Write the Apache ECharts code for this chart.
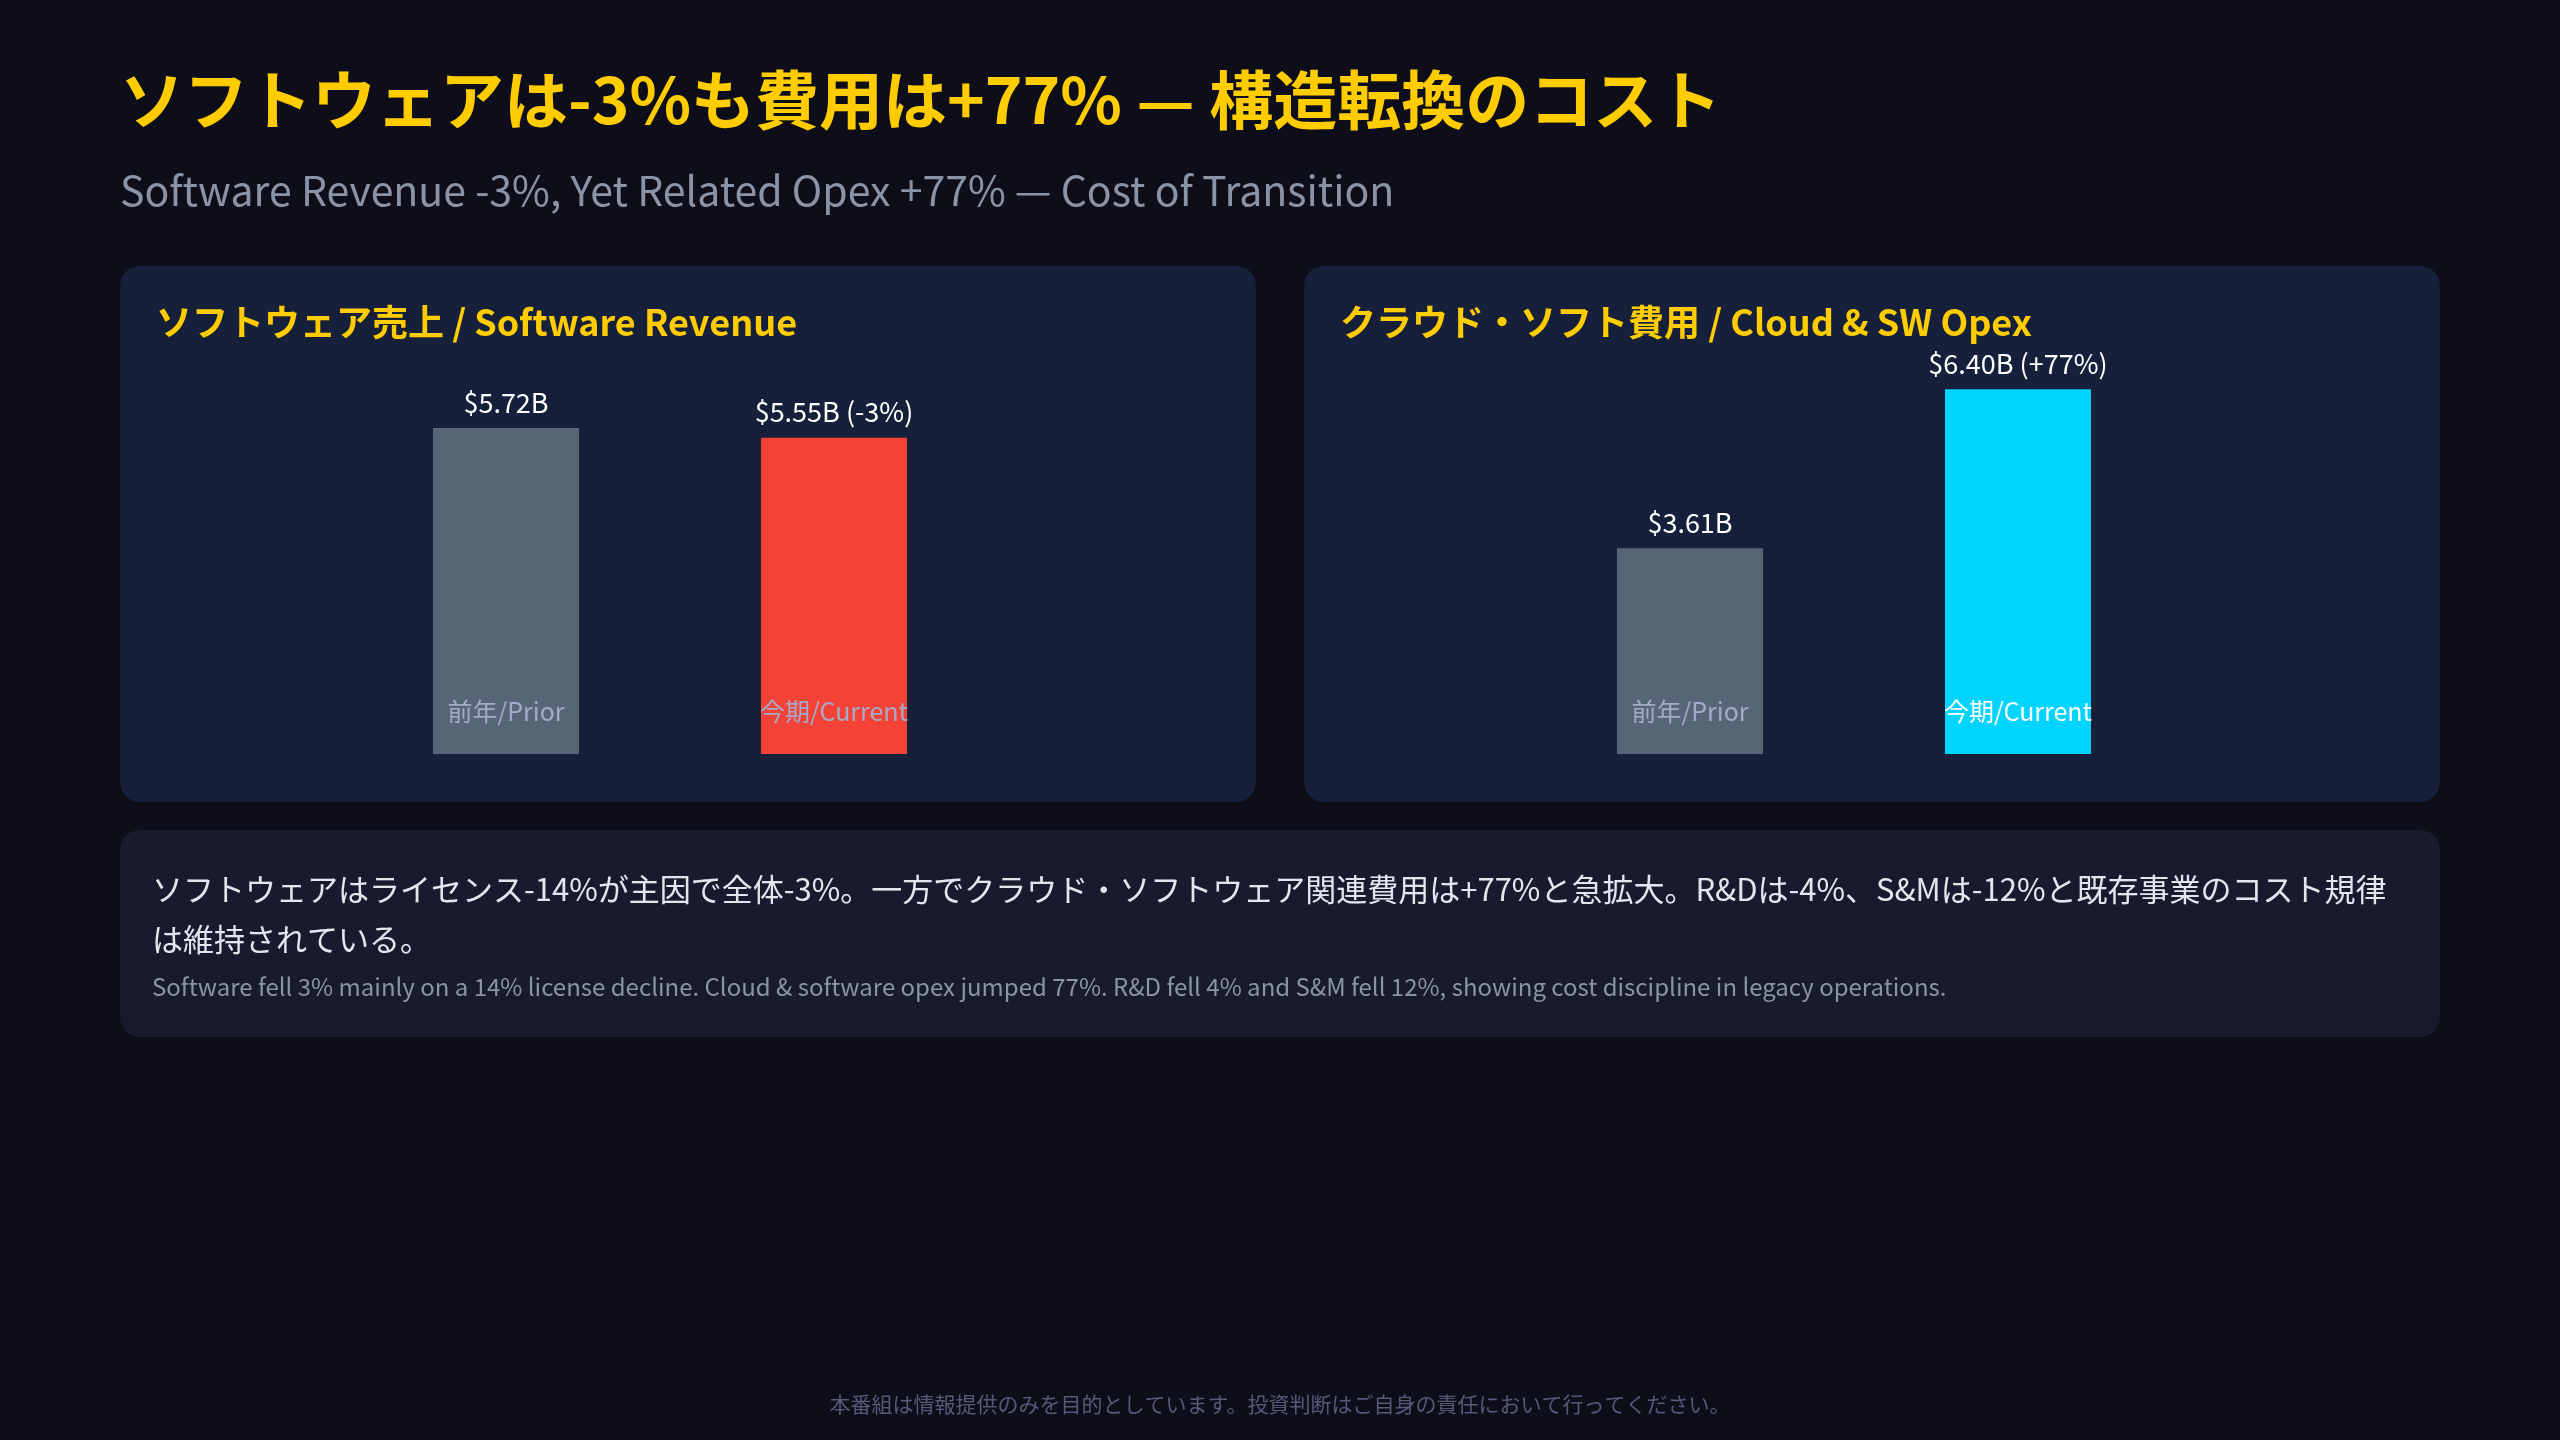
<!DOCTYPE html>
<html>
<head>
<meta charset="utf-8">
<script src="https://cdn.jsdelivr.net/npm/echarts@6/dist/echarts.min.js"></script>
<style>
  html, body { margin: 0; padding: 0; background: #0e0e1a; }
  #chart { width: 2560px; height: 1440px; }
</style>
</head>
<body>
<div id="chart"></div>
<script>
// data
const categories = ['前年/Prior', '今期/Current'];
const revenueValues = [5.72, 5.55];
const revenueLabels = ['$5.72B', '$5.55B (-3%)'];
const opexValues = [3.61, 6.40];
const opexLabels = ['$3.61B', '$6.40B (+77%)'];

const FONT = '"Noto Sans CJK JP", "Noto Sans", sans-serif';
const chart = echarts.init(document.getElementById('chart'));

function barSeries(idx, values, labels, colors, catColors) {
  return [{
    type: 'bar',
    xAxisIndex: idx, yAxisIndex: idx,
    barWidth: 146,
    data: values.map((v, i) => ({ value: v, itemStyle: { color: colors[i] } })),
    label: {
      show: true, position: 'top', distance: 12,
      color: '#ffffff', fontSize: 27, fontFamily: FONT,
      formatter: p => labels[p.dataIndex]
    }
  }, {
    // category names drawn inside bottom of bars
    type: 'bar',
    xAxisIndex: idx, yAxisIndex: idx,
    barWidth: 146, barGap: '-100%', silent: true,
    data: values.map(() => 0),
    itemStyle: { color: 'transparent' },
    label: {
      show: true, position: 'top', distance: 30,
      fontSize: 25, fontFamily: FONT,
      formatter: p => '{c' + p.dataIndex + '|' + categories[p.dataIndex] + '}',
      rich: { c0: { color: catColors[0], fontSize: 25, fontFamily: FONT },
              c1: { color: catColors[1], fontSize: 25, fontFamily: FONT } }
    }
  }];
}

const axisOff = { show: false };
chart.setOption({
  backgroundColor: '#0e0e1a',
  graphic: [
    { type: 'text', left: 120, top: 68, style: { text: 'ソフトウェアは-3%も費用は+77% — 構造転換のコスト', fill: '#ffcc00', font: 'bold 64px ' + FONT } },
    { type: 'text', left: 120, top: 170, style: { text: 'Software Revenue -3%, Yet Related Opex +77% — Cost of Transition', fill: '#8a94a6', font: '41px ' + FONT } },
    { type: 'rect', z: -10, shape: { x: 120, y: 266, width: 1136, height: 536, r: 20 }, style: { fill: '#16203a' } },
    { type: 'rect', z: -10, shape: { x: 1304, y: 266, width: 1136, height: 536, r: 20 }, style: { fill: '#16203a' } },
    { type: 'text', left: 156, top: 304, style: { text: 'ソフトウェア売上 / Software Revenue', fill: '#ffcc00', font: 'bold 36px ' + FONT } },
    { type: 'text', left: 1340, top: 304, style: { text: 'クラウド・ソフト費用 / Cloud & SW Opex', fill: '#ffcc00', font: 'bold 36px ' + FONT } },
    { type: 'rect', z: -10, shape: { x: 120, y: 830, width: 2320, height: 207, r: 20 }, style: { fill: '#181a2e' } },
    { type: 'text', left: 152, top: 864, style: {
      text: 'ソフトウェアはライセンス-14%が主因で全体-3%。一方でクラウド・ソフトウェア関連費用は+77%と急拡大。R&Dは-4%、S&Mは-12%と既存事業のコスト規律は維持されている。',
      width: 2260, overflow: 'break', lineHeight: 50, fill: '#e4e6ee', font: '31px ' + FONT } },
    { type: 'text', left: 152, top: 975, style: {
      text: 'Software fell 3% mainly on a 14% license decline. Cloud & software opex jumped 77%. R&D fell 4% and S&M fell 12%, showing cost discipline in legacy operations.',
      fill: '#8a94a6', font: '24px ' + FONT } },
    { type: 'text', left: 'center', top: 1394, style: { text: '本番組は情報提供のみを目的としています。投資判断はご自身の責任において行ってください。', fill: '#555a78', font: '21px ' + FONT } }
  ],
  grid: [
    { left: 342, width: 656, top: 355, height: 399 },
    { left: 1526, width: 656, top: 355, height: 399 }
  ],
  xAxis: [
    { gridIndex: 0, type: 'category', data: categories, show: false },
    { gridIndex: 1, type: 'category', data: categories, show: false }
  ],
  yAxis: [
    { gridIndex: 0, type: 'value', min: 0, max: 7, ...axisOff },
    { gridIndex: 1, type: 'value', min: 0, max: 7, ...axisOff }
  ],
  series: [
    ...barSeries(0, revenueValues, revenueLabels, ['#566676', '#f44336'], ['#a4aac8', '#a4aac8']),
    ...barSeries(1, opexValues, opexLabels, ['#566676', '#00d4ff'], ['#a4aac8', '#ffffff'])
  ]
});
</script>
</body>
</html>
